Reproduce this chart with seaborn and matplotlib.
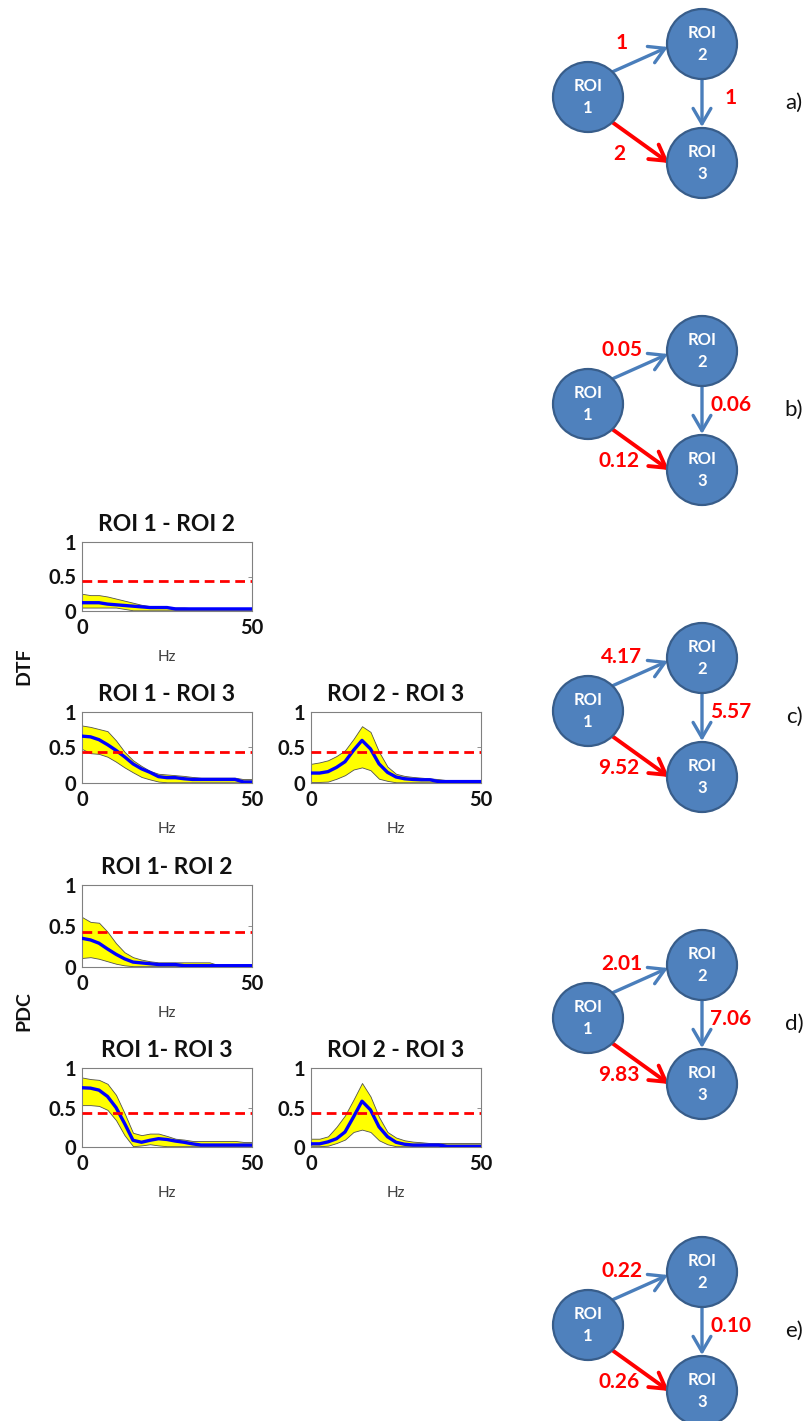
import matplotlib
matplotlib.use("Agg")
import matplotlib.pyplot as plt
from matplotlib.patches import Circle
import seaborn as sns

# ---------------- data ----------------
freqs = [0, 2.5, 5, 7.5, 10, 12.5, 15, 17.5, 20, 22.5, 25,
         27.5, 30, 32.5, 35, 37.5, 40, 42.5, 45, 47.5, 50]

threshold = 0.43

dtf12_mean = [0.12, 0.12, 0.12, 0.10, 0.09, 0.08, 0.07, 0.06, 0.05, 0.05, 0.05,
              0.03, 0.03, 0.03, 0.03, 0.03, 0.03, 0.03, 0.03, 0.03, 0.03]
dtf12_upper = [0.25, 0.23, 0.23, 0.21, 0.18, 0.15, 0.12, 0.09, 0.07, 0.06, 0.06,
               0.05, 0.05, 0.04, 0.035, 0.035, 0.035, 0.035, 0.035, 0.035, 0.035]
dtf12_lower = [0.05, 0.05, 0.05, 0.05, 0.05, 0.03, 0.01, 0.01, 0.01, 0.01, 0.01,
               0.01, 0.01, 0.01, 0.01, 0.01, 0.01, 0.01, 0.01, 0.01, 0.01]

dtf13_mean = [0.66, 0.65, 0.61, 0.54, 0.46, 0.37, 0.27, 0.20, 0.15, 0.09, 0.075,
              0.075, 0.06, 0.05, 0.05, 0.05, 0.05, 0.05, 0.05, 0.015, 0.015]
dtf13_upper = [0.81, 0.79, 0.76, 0.73, 0.60, 0.44, 0.32, 0.24, 0.17, 0.13, 0.12,
               0.11, 0.10, 0.085, 0.075, 0.075, 0.075, 0.075, 0.075, 0.055, 0.055]
dtf13_lower = [0.48, 0.42, 0.41, 0.37, 0.30, 0.22, 0.15, 0.085, 0.05, 0.02, 0.01,
               0.01, 0.01, 0.01, 0.01, 0.01, 0.01, 0.01, 0.01, 0.01, 0.01]

dtf23_mean = [0.14, 0.14, 0.16, 0.22, 0.30, 0.46, 0.60, 0.48, 0.27, 0.15, 0.085,
              0.06, 0.05, 0.045, 0.045, 0.02, 0.02, 0.02, 0.02, 0.02, 0.02]
dtf23_upper = [0.27, 0.29, 0.32, 0.38, 0.46, 0.62, 0.80, 0.72, 0.44, 0.23, 0.13,
               0.10, 0.085, 0.075, 0.065, 0.055, 0.04, 0.03, 0.03, 0.03, 0.03]
dtf23_lower = [0.015, 0.015, 0.02, 0.06, 0.11, 0.19, 0.22, 0.18, 0.06, 0.03, 0.01,
               0.01, 0.01, 0.01, 0.01, 0.01, 0.01, 0.01, 0.01, 0.01, 0.01]

pdc12_mean = [0.35, 0.33, 0.29, 0.22, 0.155, 0.10, 0.06, 0.05, 0.04, 0.03, 0.03,
              0.03, 0.016, 0.016, 0.016, 0.016, 0.016, 0.016, 0.016, 0.016, 0.016]
pdc12_upper = [0.61, 0.55, 0.54, 0.43, 0.29, 0.18, 0.12, 0.09, 0.07, 0.057, 0.057,
               0.057, 0.057, 0.057, 0.057, 0.057, 0.025, 0.025, 0.025, 0.025, 0.025]
pdc12_lower = [0.11, 0.12, 0.10, 0.07, 0.04, 0.02, 0.01, 0.01, 0.01, 0.01, 0.01,
               0.01, 0.01, 0.01, 0.01, 0.01, 0.01, 0.01, 0.01, 0.01, 0.01]

pdc13_mean = [0.75, 0.745, 0.72, 0.64, 0.50, 0.30, 0.085, 0.06, 0.085, 0.105, 0.095,
              0.075, 0.06, 0.04, 0.025, 0.025, 0.025, 0.025, 0.025, 0.025, 0.025]
pdc13_upper = [0.88, 0.86, 0.85, 0.80, 0.66, 0.43, 0.18, 0.15, 0.17, 0.17, 0.14,
               0.105, 0.094, 0.077, 0.077, 0.077, 0.077, 0.077, 0.077, 0.064, 0.064]
pdc13_lower = [0.53, 0.53, 0.52, 0.47, 0.34, 0.15, 0.01, 0.02, 0.035, 0.02, 0.01,
               0.01, 0.01, 0.01, 0.01, 0.01, 0.01, 0.01, 0.01, 0.01, 0.01]

pdc23_mean = [0.04, 0.04, 0.065, 0.105, 0.19, 0.38, 0.58, 0.47, 0.255, 0.13, 0.06,
              0.035, 0.025, 0.025, 0.025, 0.025, 0.01, 0.01, 0.01, 0.01, 0.01]
pdc23_upper = [0.105, 0.105, 0.135, 0.255, 0.40, 0.60, 0.81, 0.64, 0.38, 0.19, 0.12,
               0.085, 0.068, 0.06, 0.05, 0.05, 0.05, 0.05, 0.05, 0.05, 0.05]
pdc23_lower = [0.01, 0.01, 0.017, 0.05, 0.094, 0.19, 0.22, 0.19, 0.085, 0.034, 0.01,
               0.01, 0.01, 0.01, 0.01, 0.01, 0.01, 0.01, 0.01, 0.01, 0.01]

panel_titles = ["ROI 1 - ROI 2", "ROI 1 - ROI 3", "ROI 2 - ROI 3",
                "ROI 1- ROI 2", "ROI 1- ROI 3", "ROI 2 - ROI 3"]
row_labels = ["DTF", "PDC"]
y_ticks = [0, 0.5, 1]
y_ticklabels = ["0", "0.5", "1"]
x_ticks = [0, 50]
x_ticklabels = ["0", "50"]

edge_12 = ["1", "0.05", "4.17", "2.01", "0.22"]
edge_23 = ["1", "0.06", "5.57", "7.06", "0.10"]
edge_13 = ["2", "0.12", "9.52", "9.83", "0.26"]
panel_letters = ["a)", "b)", "c)", "d)", "e)"]
node_names = ["ROI\n1", "ROI\n2", "ROI\n3"]

# ---------------- style ----------------
sns.set_style("white")
plt.rcParams["font.family"] = ["Lato", "DejaVu Sans"]

W, H = 808, 1421
fig = plt.figure(figsize=(W / 100, H / 100), dpi=100)


def px_axes(left, top, right, bottom):
    return fig.add_axes([left / W, 1 - bottom / H, (right - left) / W, (bottom - top) / H])


# overlay for network diagrams and free text (pixel coordinates)
ov = fig.add_axes([0, 0, 1, 1])
ov.set_xlim(0, W)
ov.set_ylim(H, 0)
ov.axis("off")

panels = [
    ((82, 542, 252, 611), dtf12_mean, dtf12_upper, dtf12_lower),
    ((82, 712, 252, 783), dtf13_mean, dtf13_upper, dtf13_lower),
    ((311, 712, 481, 783), dtf23_mean, dtf23_upper, dtf23_lower),
    ((82, 885, 252, 967), pdc12_mean, pdc12_upper, pdc12_lower),
    ((82, 1068, 252, 1147), pdc13_mean, pdc13_upper, pdc13_lower),
    ((311, 1068, 481, 1147), pdc23_mean, pdc23_upper, pdc23_lower),
]

for (box, mean, upper, lower), title in zip(panels, panel_titles):
    ax = px_axes(*box)
    ax.fill_between(freqs, lower, upper, color="#FFFF00", edgecolor="#505050",
                    linewidth=0.6, zorder=1)
    sns.lineplot(x=freqs, y=mean, ax=ax, color="#0000FF", linewidth=2.4, zorder=3)
    ax.axhline(threshold, color="#FF0000", linestyle=(0, (3.5, 2)), linewidth=2, zorder=4)
    ax.set_xlim(0, 50)
    ax.set_ylim(0, 1)
    ax.set_yticks(y_ticks)
    ax.set_yticklabels(y_ticklabels)
    ax.set_xticks(x_ticks)
    ax.set_xticklabels(x_ticklabels)
    for lab in ax.get_xticklabels() + ax.get_yticklabels():
        lab.set_fontweight("bold")
        lab.set_fontsize(14.5)
        lab.set_color("#111111")
    ax.tick_params(direction="in", length=3, width=0.6, color="#808080",
                   right=True, top=True, pad=4)
    ax.tick_params(axis="x", pad=5)
    for sp in ax.spines.values():
        sp.set_color("#808080")
        sp.set_linewidth(0.8)
    ax.set_title(title, fontsize=16.5, fontweight="bold", pad=8, color="#111111")
    ax.set_xlabel("Hz", fontsize=11, color="#404040", labelpad=9)
    ax.set_ylabel("")

# row labels
ov.text(24, 666, row_labels[0], rotation=90, ha="center", va="center",
        fontsize=14, fontweight="bold", color="#111111")
ov.text(24, 1011, row_labels[1], rotation=90, ha="center", va="center",
        fontsize=14, fontweight="bold", color="#111111")

# network diagrams
node_fill = "#4F81BD"
node_edge = "#385D8A"
blue_arrow = "#4A7EBB"
red = "#FF0000"
R = 35
for i in range(5):
    y1 = 97 + 307 * i
    c1 = (588, y1)
    c2 = (702, y1 - 53)
    c3 = (702, y1 + 66)
    astyle = "->,head_length=0.55,head_width=0.32"
    ov.annotate("", xy=(668, y1 - 50), xytext=(612, y1 - 25),
                arrowprops=dict(arrowstyle=astyle, color=blue_arrow, lw=2.4,
                                mutation_scale=20, shrinkA=0, shrinkB=0), zorder=1)
    ov.annotate("", xy=(702, y1 + 30), xytext=(702, y1 - 19),
                arrowprops=dict(arrowstyle=astyle, color=blue_arrow, lw=2.4,
                                mutation_scale=20, shrinkA=0, shrinkB=0), zorder=1)
    ov.annotate("", xy=(669, y1 + 66), xytext=(612, y1 + 25),
                arrowprops=dict(arrowstyle=astyle, color=red, lw=2.8,
                                mutation_scale=20, shrinkA=0, shrinkB=0), zorder=1)
    for c, name in zip((c1, c2, c3), node_names):
        ov.add_patch(Circle(c, R, facecolor=node_fill, edgecolor=node_edge,
                            linewidth=1.6, zorder=2))
        ov.text(c[0], c[1], name, ha="center", va="center", color="white",
                fontsize=12, fontweight="bold", linespacing=1.4, zorder=3)
    ov.text(622, y1 - 54, edge_12[i], ha="center", va="center", color=red,
            fontsize=15, fontweight="bold")
    ov.text(731, y1 + 1, edge_23[i], ha="center", va="center", color=red,
            fontsize=15, fontweight="bold")
    ov.text(619, y1 + 57, edge_13[i], ha="center", va="center", color=red,
            fontsize=15, fontweight="bold")
    ov.text(794, y1 + 6, panel_letters[i], ha="center", va="center",
            color="#111111", fontsize=16)

fig.savefig("out.png", dpi=100)
